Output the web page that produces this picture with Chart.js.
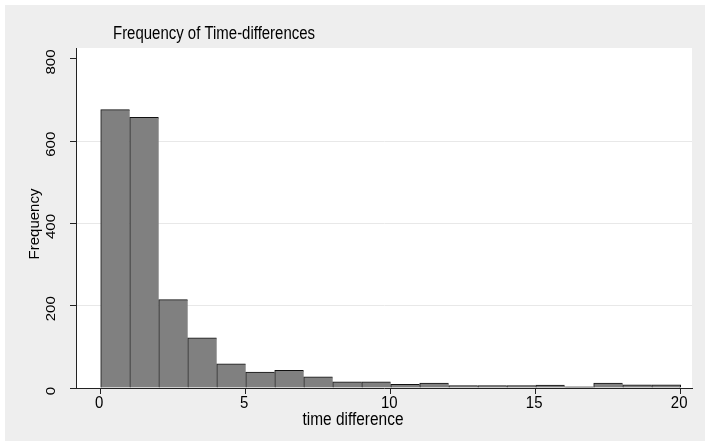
<!DOCTYPE html>
<html>
<head>
<meta charset="utf-8">
<script src="https://cdn.jsdelivr.net/npm/chart.js@4/dist/chart.umd.min.js"></script>
<style>
  html, body { margin: 0; padding: 0; background: #ffffff; }
  #wrap { width: 705px; height: 446px; }
</style>
</head>
<body>
<div id="wrap"><canvas id="chart" width="705" height="446"></canvas></div>
<script>
// histogram bins (start of each bin) and their counts
const binStarts = [0, 1, 2, 3, 4, 5, 6, 7, 8, 9, 10, 11, 12, 13, 14, 15, 16, 17, 18, 19];
const binWidth = 1;
const frequency = [677, 658, 215, 122, 59, 39, 43, 27, 15, 15, 9, 12, 6, 6, 6, 7, 3, 12, 8, 8];

const xTicks = [0, 5, 10, 15, 20];
const yTicks = [0, 200, 400, 600, 800];

const titleText = "Frequency of Time-differences";
const xTitle = "time difference";
const yTitle = "Frequency";

const FONT = "'Liberation Sans', Arial, sans-serif";

function drawText(ctx, text, x, y, o) {
    ctx.save();
    ctx.translate(x, y);
    if (o.rot) ctx.rotate(o.rot);
    ctx.font = o.font;
    let sx = o.sx || 1;
    if (o.fitWidth) sx = o.fitWidth / ctx.measureText(text).width;
    ctx.scale(sx, o.sy || 1);
    ctx.textAlign = o.align || "center";
    ctx.textBaseline = "alphabetic";
    ctx.fillStyle = "#000000";
    ctx.fillText(text, 0, 0);
    ctx.restore();
}

const backgroundPlugin = {
    id: "stataBackground",
    beforeDraw(chart) {
        const { ctx, chartArea } = chart;
        ctx.save();
        ctx.fillStyle = "#ffffff";
        ctx.fillRect(0, 0, chart.width, chart.height);
        ctx.fillStyle = "#eeeeee";
        ctx.fillRect(5, 5, chart.width - 5, chart.height - 10);
        ctx.fillStyle = "#ffffff";
        ctx.fillRect(chartArea.left, chartArea.top, chartArea.right - chartArea.left, chartArea.bottom - chartArea.top);
        ctx.restore();
    },
};

const labelsPlugin = {
    id: "stataLabels",
    afterDraw(chart) {
        const ctx = chart.ctx;
        const xs = chart.scales.x;
        const ys = chart.scales.y;

        drawText(ctx, titleText, 113, 39, { font: "18px " + FONT, fitWidth: 202, align: "left" });

        xs.ticks.forEach((t) => {
            const px = xs.getPixelForValue(t.value);
            drawText(ctx, String(t.value), px - 1.5, 408, { font: "17px " + FONT, sx: 0.88 });
        });
        drawText(ctx, xTitle, 353, 425, { font: "18px " + FONT, fitWidth: 101 });

        ys.ticks.forEach((t) => {
            const py = ys.getPixelForValue(t.value);
            drawText(ctx, String(t.value), 55, py + 3, { font: "15px " + FONT, rot: -Math.PI / 2, sy: 0.85 });
        });
        drawText(ctx, yTitle, 38.5, 224, { font: "15px " + FONT, rot: -Math.PI / 2 });
    },
};

const ctx = document.getElementById("chart").getContext("2d");
const lastBar = frequency.length - 1;

new Chart(ctx, {
    type: "bar",
    data: {
        datasets: [
            {
                label: "Frequency",
                data: binStarts.map((s, i) => ({ x: s + binWidth / 2, y: frequency[i] })),
                backgroundColor: "#808080",
                borderColor: "#111111",
                borderWidth: (c) => ({ top: 1, left: 1, bottom: 0, right: c.dataIndex === lastBar ? 1 : 0 }),
                barPercentage: 1,
                categoryPercentage: 1,
                grouped: false,
            },
        ],
    },
    options: {
        responsive: false,
        animation: false,
        devicePixelRatio: 1,
        layout: { padding: { top: 48, right: 13, bottom: 0, left: 0 } },
        plugins: {
            legend: { display: false },
            title: { display: false },
            tooltip: { enabled: false },
        },
        scales: {
            x: {
                type: "linear",
                offset: false,
                min: -0.852,
                max: 20.39,
                afterBuildTicks: (s) => { s.ticks = xTicks.map((v) => ({ value: v })); },
                afterFit: (s) => { s.height = 58; },
                ticks: { display: false },
                grid: { offset: false, drawOnChartArea: false, drawTicks: true, tickLength: 6, tickColor: "#222222" },
                border: { display: true, color: "#222222", width: 1 },
            },
            y: {
                type: "linear",
                min: 0,
                max: 826.7,
                afterBuildTicks: (s) => { s.ticks = yTicks.map((v) => ({ value: v })); },
                afterFit: (s) => { s.width = 76; },
                ticks: { display: false },
                grid: {
                    color: (c) => (c.tick && (c.tick.value === 0 || c.tick.value === 800) ? "rgba(0,0,0,0)" : "#e8e8e8"),
                    tickColor: "#222222",
                    tickLength: 6,
                    drawTicks: true,
                },
                border: { display: true, color: "#222222", width: 1 },
            },
        },
    },
    plugins: [backgroundPlugin, labelsPlugin],
});
</script>
</body>
</html>
